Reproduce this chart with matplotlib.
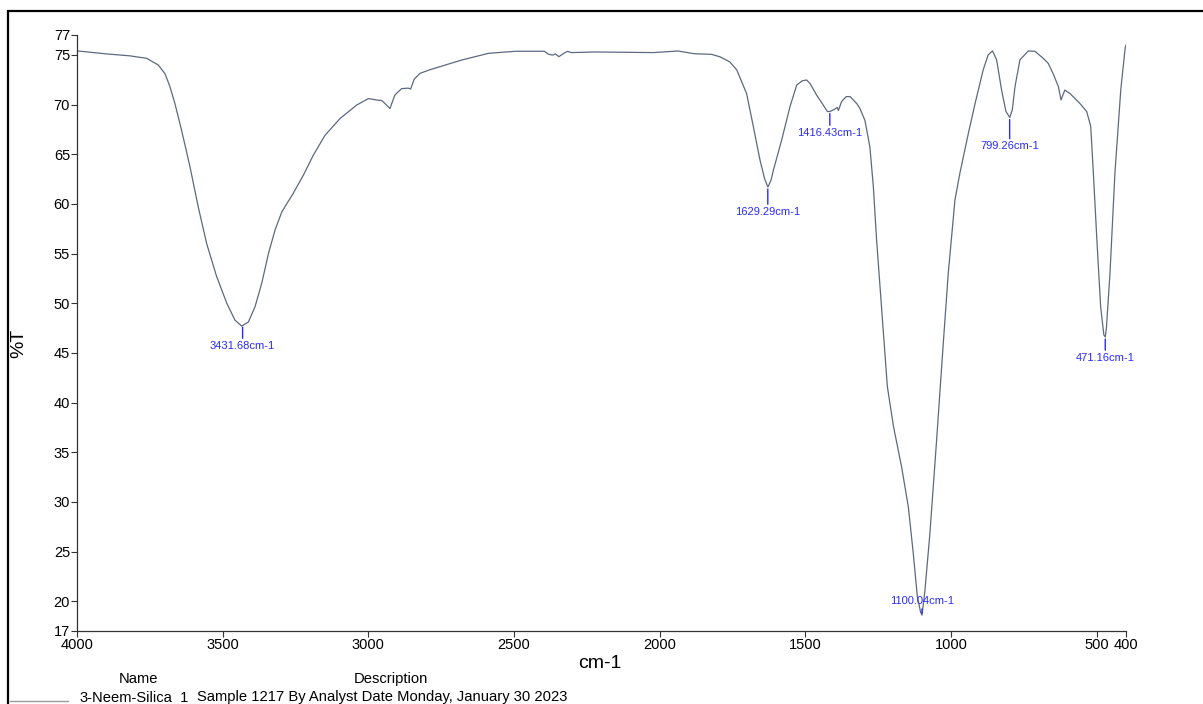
import numpy as np
import matplotlib
matplotlib.use("Agg")
import matplotlib.pyplot as plt
from matplotlib.patches import Rectangle
from matplotlib.lines import Line2D

plt.rcParams['font.family'] = ['Liberation Sans', 'DejaVu Sans']

# spectrum (wavenumber cm-1, %T)
wavenumber = [4000, 3900, 3818, 3761, 3721, 3698, 3681, 3664, 3641, 3612,
              3584, 3555, 3521, 3486, 3458, 3435, 3412, 3389, 3366, 3343,
              3320, 3297, 3258, 3223, 3189, 3149, 3097, 3040, 3000, 2972,
              2954, 2943, 2926, 2909, 2886, 2863, 2855, 2843, 2823, 2789,
              2756, 2680, 2587, 2495, 2396, 2381, 2366, 2359, 2346, 2327,
              2316, 2304, 2220, 2021, 1937, 1883, 1822, 1793, 1760, 1736,
              1702, 1679, 1656, 1640, 1629, 1618, 1610, 1582, 1553, 1530,
              1510, 1496, 1484, 1462, 1439, 1425, 1416, 1405, 1391, 1387,
              1376, 1360, 1347, 1324, 1313, 1296, 1279, 1267, 1256, 1239,
              1227, 1219, 1198, 1170, 1147, 1130, 1116, 1105, 1100, 1090,
              1073, 1050, 1027, 1010, 987, 970, 941, 918, 890, 873,
              858, 844, 827, 812, 799, 790, 781, 764, 735, 712,
              684, 667, 650, 632, 623, 610, 592, 558, 535, 521,
              512, 500, 487, 476, 471, 467, 455, 438, 418, 403,
              400]
transmittance = [75.4, 75.1, 74.9, 74.65, 73.98, 73.1, 71.8, 70.1, 67.4, 63.7,
                 59.7, 56.0, 52.7, 50.0, 48.3, 47.7, 48.1, 49.65, 52.0, 55.0,
                 57.4, 59.2, 61.06, 62.9, 64.9, 66.9, 68.6, 69.95, 70.6, 70.46,
                 70.4, 70.1, 69.6, 70.96, 71.6, 71.65, 71.56, 72.54, 73.14, 73.5,
                 73.8, 74.48, 75.16, 75.36, 75.36, 75.05, 74.98, 75.1, 74.82, 75.2,
                 75.36, 75.23, 75.29, 75.23, 75.39, 75.12, 75.05, 74.8, 74.3, 73.5,
                 71.1, 67.8, 64.4, 62.5, 61.7, 62.4, 63.4, 66.4, 69.8, 71.97,
                 72.4, 72.47, 72.1, 70.96, 69.95, 69.3, 69.3, 69.45, 69.7, 69.4,
                 70.3, 70.8, 70.8, 70.1, 69.6, 68.4, 65.75, 61.7, 56.4, 49.65,
                 44.95, 41.6, 37.6, 33.5, 29.5, 24.8, 20.45, 18.9, 18.6, 21.1,
                 26.8, 36.2, 46.0, 53.0, 60.4, 63.1, 67.1, 70.1, 73.5, 75.0,
                 75.4, 74.5, 71.46, 69.3, 68.7, 69.5, 71.8, 74.5, 75.4, 75.35,
                 74.65, 74.15, 73.1, 71.8, 70.46, 71.46, 71.1, 70.1, 69.3, 67.8,
                 63.1, 56.4, 49.65, 46.8, 46.6, 47.6, 53.0, 63.1, 71.46, 75.66,
                 76.0]

peak_wn = [3431.68, 1629.29, 1416.43, 1100.04, 799.26, 471.16]
peak_T = [47.8, 61.7, 69.3, 18.6, 68.7, 46.6]
peak_labels = ["3431.68cm-1", "1629.29cm-1", "1416.43cm-1",
               "1100.04cm-1", "799.26cm-1", "471.16cm-1"]

x_ticks = [4000, 3500, 3000, 2500, 2000, 1500, 1000, 500, 400]
y_ticks = [17, 20, 25, 30, 35, 40, 45, 50, 55, 60, 65, 70, 75, 77]

W, H = 1203, 704
fig = plt.figure(figsize=(W / 100, H / 100), dpi=100)
ax = fig.add_axes([77 / W, 1 - 631 / H, (1126 - 77) / W, (631 - 35) / H])

ax.plot(wavenumber, transmittance, color='#5b6a80', lw=0.9)
ax.set_xlim(4000, 400)
ax.set_ylim(17, 77)
ax.set_xticks(x_ticks)
ax.set_yticks(y_ticks)
ax.tick_params(direction='out', length=4, width=0.8, labelsize=10.5, pad=1,
               color='#333333')
for s in ['top', 'right']:
    ax.spines[s].set_visible(False)
for s in ['left', 'bottom']:
    ax.spines[s].set_color('#333333')
    ax.spines[s].set_linewidth(0.9)

fig.text(600 / W, 1 - 663 / H, 'cm-1', ha='center', va='center', fontsize=14)
fig.text(19 / W, 1 - 343 / H, '%T', ha='center', va='center', fontsize=14,
         rotation=90)

# peak labels: offsets in pixels from the peak (negative = below)
offsets = [-21, -25, -21.5, 14, -29, -21]
for wn, t, lab, off in zip(peak_wn, peak_T, peak_labels, offsets):
    ax.annotate(lab, xy=(wn, t), xytext=(0, off), textcoords='offset pixels',
                ha='center', va='center', fontsize=8, color='#2a2aff',
                arrowprops=dict(arrowstyle='-', color='#2a2aff', lw=1,
                                shrinkA=0, shrinkB=1.5))

# outer frame
fig.patches.append(Rectangle((8 / W, -0.1), 1.2, 1 - 11 / H + 0.1,
                             transform=fig.transFigure, fill=False,
                             edgecolor='black', lw=1.6))

# legend block at the bottom
fig.text(138 / W, 1 - 679 / H, 'Name', ha='center', va='center', fontsize=10.6)
fig.text(391 / W, 1 - 679 / H, 'Description', ha='center', va='center', fontsize=10.6)
fig.text(80 / W, 1 - 701 / H, '3-Neem-Silica_1', ha='left', va='baseline', fontsize=10.6)
fig.text(197 / W, 1 - 701 / H, 'Sample 1217 By Analyst Date Monday, January 30 2023',
         ha='left', va='baseline', fontsize=10.6)
fig.lines.append(Line2D([10 / W, 68 / W], [1 - 701 / H, 1 - 701 / H],
                        transform=fig.transFigure, color='#9a9a9a', lw=1))

fig.savefig('out.png', dpi=100)
